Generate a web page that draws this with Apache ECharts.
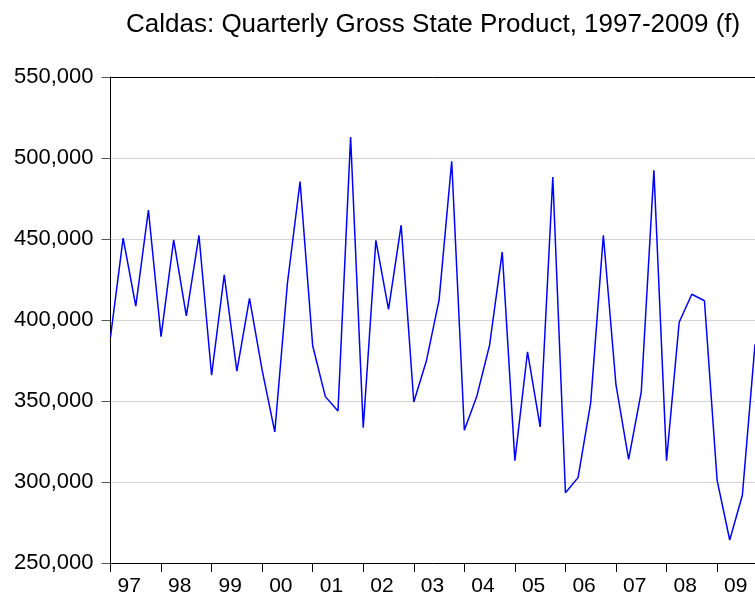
<!DOCTYPE html>
<html>
<head>
<meta charset="utf-8">
<title>Caldas GSP</title>
<script src="https://cdn.jsdelivr.net/npm/echarts@6/dist/echarts.min.js"></script>
<style>
  html, body { margin: 0; padding: 0; background: #fff; }
  #chart { width: 755px; height: 599px; }
</style>
</head>
<body>
<div id="chart"></div>
<script>
// quarterly gross state product, 1997Q1 .. 2009Q4
const years = ['1997', '1998', '1999', '2000', '2001', '2002', '2003',
  '2004', '2005', '2006', '2007', '2008', '2009'];
const quarters = ['Q1', 'Q2', 'Q3', 'Q4'];
const gsp = [
  389500, 450500, 408600, 467900, // 97
  389700, 449400, 402500, 452300, // 98
  365900, 427800, 368500, 413400, // 99
  369000, 330900, 422700, 485400, // 00
  384100, 352700, 343800, 513000, // 01
  333500, 449200, 406600, 458500, // 02
  349400, 374900, 412300, 498000, // 03
  331900, 353300, 384600, 442000, // 04
  313200, 380400, 334000, 488300, // 05
  293400, 302700, 349000, 452300, // 06
  359900, 314000, 355700, 492400, // 07
  313200, 398600, 415900, 411900, // 08
  301200, 264200, 291800, 385000, // 09
];
const yTicks = { min: 250000, max: 550000, step: 50000 };

const categories = [];
years.forEach(y => quarters.forEach(q => categories.push(y + q)));

const font = 'Liberation Sans, Arial, sans-serif';
const firstQuarter = index => index % 4 === 0;

const chart = echarts.init(document.getElementById('chart'));
chart.setOption({
  animation: false,
  title: {
    text: 'Caldas: Quarterly Gross State Product, 1997-2009 (f)',
    left: 126,
    top: 12,
    padding: 0,
    textStyle: { fontFamily: font, fontSize: 26, fontWeight: 'normal', color: '#000' },
  },
  grid: {
    left: 110.5,
    width: 646,
    top: 77,
    bottom: 36,
  },
  xAxis: [{
    type: 'category',
    data: categories,
    boundaryGap: false,
    axisLine: { lineStyle: { color: '#000', width: 1 } },
    axisTick: { interval: firstQuarter, length: 9, lineStyle: { color: '#000' } },
    axisLabel: {
      interval: firstQuarter,
      formatter: v => v.slice(2, 4),
      align: 'left',
      padding: [0, 0, 0, 7],
      margin: 13,
      color: '#000',
      fontFamily: font,
      fontSize: 21,
    },
    splitLine: { show: false },
  }, {
    // top frame line only
    type: 'category',
    data: categories,
    boundaryGap: false,
    position: 'top',
    axisLine: { lineStyle: { color: '#000', width: 1 } },
    axisTick: { show: false },
    axisLabel: { show: false },
    splitLine: { show: false },
  }],
  yAxis: {
    type: 'value',
    min: yTicks.min,
    max: yTicks.max,
    interval: yTicks.step,
    axisLine: { show: true, lineStyle: { color: '#000', width: 1 } },
    axisTick: { show: true, length: 9, lineStyle: { color: '#555' } },
    axisLabel: {
      margin: 17,
      color: '#000',
      fontFamily: font,
      fontSize: 22,
      formatter: v => v.toLocaleString('en-US'),
    },
    splitLine: { lineStyle: { color: '#d4d4d4', width: 1 } },
  },
  series: [{
    type: 'line',
    data: gsp,
    symbol: 'none',
    lineStyle: { color: '#0000ff', width: 1.5 },
  }],
});
</script>
</body>
</html>
